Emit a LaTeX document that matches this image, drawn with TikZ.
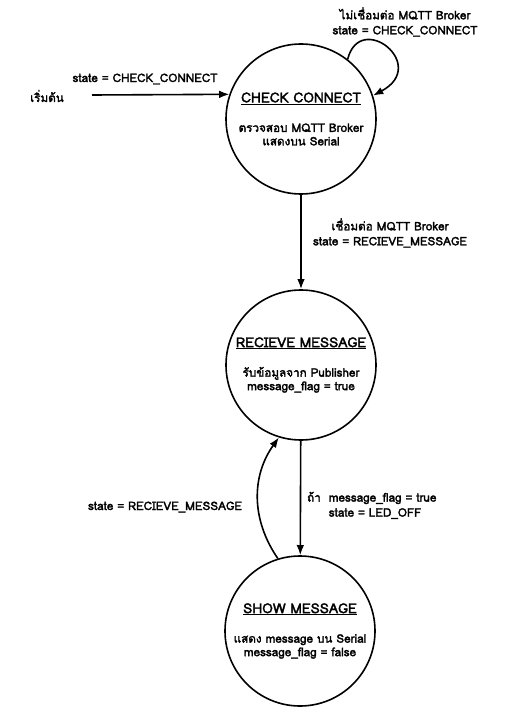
\documentclass[tikz,border=0pt]{standalone}
\usepackage{fontspec}
\setmainfont[Script=Thai, BoldFont={Loma}, BoldFeatures={FakeBold=2.2}]{Loma}
\usetikzlibrary{arrows.meta,positioning}

\begin{document}
\begin{tikzpicture}[>=Latex, line width=1.6pt, x=1pt, y=-1pt,
    state/.style={draw, circle, minimum size=150pt, inner sep=0pt, align=center,
        font=\bfseries\fontsize{11.7}{13.5}\selectfont},
    lbl/.style={align=center, font=\bfseries\fontsize{11.7}{15}\selectfont}]

        \useasboundingbox (0,0) rectangle (510,714);

        % States
        \node[state] (check) at (301,119) {\underline{\fontsize{13.7}{13.5}\selectfont CHECK CONNECT}\\[16pt]ตรวจสอบ MQTT Broker\\แสดงบน Serial};
        \node[state] (recv) at (301,365) {\underline{\fontsize{13.7}{13.5}\selectfont RECIEVE MESSAGE}\\[16pt]รับข้อมูลจาก Publisher\\message\_flag = true};
        \node[state] (show) at (300,631) {\underline{\fontsize{13.7}{13.5}\selectfont SHOW MESSAGE}\\[16pt]แสดง message บน Serial\\message\_flag = false};

        % Labels
        \node[lbl] (start) at (47,96) {เริ่มต้น};
        \coordinate (s) at (92,95);
        \node[lbl] (lstart) at (145,79) {state = CHECK\_CONNECT};
        \node[lbl] (lloop) at (405,22) {ไม่เชื่อมต่อ MQTT Broker\\state = CHECK\_CONNECT};
        \node[lbl] (lconn) at (390,233) {เชื่อมต่อ MQTT Broker\\state = RECIEVE\_MESSAGE};
        \node[lbl, anchor=north west] (lflag) at (303,487) {\begin{tabular}{@{}l@{\hspace{8pt}}l@{}}ถ้า & message\_flag = true\\ & state = LED\_OFF\end{tabular}};
        \node[lbl] (lback) at (165,507) {state = RECIEVE\_MESSAGE};

        % Arrows
        \draw[->] (s) -- (check.161);
        \draw[->] (check.52) .. controls (360,10) and (430,65) .. (check.18);
        \draw[->] (check) -- (recv);
        \draw[->] (recv) -- (show);
        \draw[->] (show.107) to[bend left=35] (recv.253);

    \end{tikzpicture}
\end{document}
